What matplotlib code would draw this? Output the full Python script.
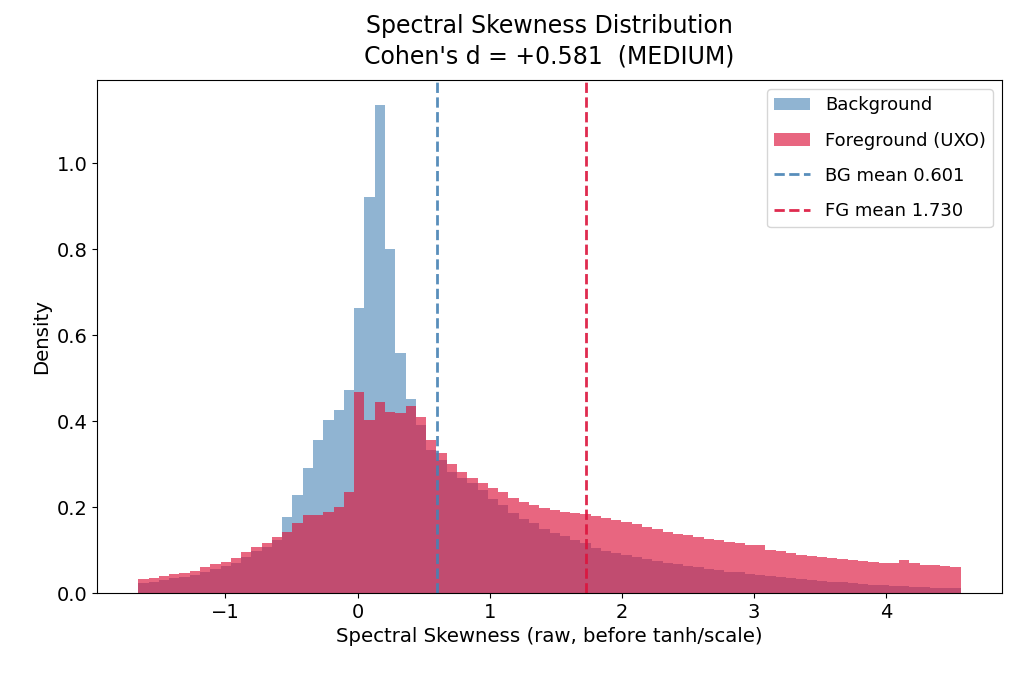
import numpy as np
import matplotlib
matplotlib.use("Agg")
import matplotlib.pyplot as plt

# histogram bins (80 bins between the clipped limits)
lo, hi = -1.66, 4.565
edges = np.linspace(lo, hi, 81)

# background density per bin
bg_density = [
    0.024, 0.027, 0.031, 0.035, 0.038, 0.043, 0.050, 0.057, 0.063, 0.071,
    0.084, 0.097, 0.108, 0.124, 0.177, 0.228, 0.290, 0.356, 0.403, 0.426,
    0.472, 0.663, 0.922, 1.136, 0.800, 0.558, 0.451, 0.390, 0.333, 0.310,
    0.282, 0.267, 0.255, 0.240, 0.220, 0.205, 0.186, 0.172, 0.163, 0.149,
    0.140, 0.132, 0.124, 0.116, 0.105, 0.099, 0.093, 0.088, 0.083, 0.079,
    0.075, 0.071, 0.067, 0.064, 0.060, 0.056, 0.053, 0.050, 0.048, 0.045,
    0.043, 0.040, 0.038, 0.036, 0.033, 0.031, 0.029, 0.027, 0.025, 0.023,
    0.022, 0.020, 0.019, 0.017, 0.016, 0.015, 0.014, 0.012, 0.012, 0.011,
]

# foreground (UXO) density per bin
fg_density = [
    0.032, 0.036, 0.040, 0.044, 0.047, 0.052, 0.060, 0.067, 0.073, 0.081,
    0.095, 0.107, 0.117, 0.130, 0.143, 0.162, 0.182, 0.182, 0.189, 0.201,
    0.236, 0.468, 0.403, 0.445, 0.422, 0.418, 0.436, 0.410, 0.356, 0.325,
    0.300, 0.282, 0.268, 0.256, 0.245, 0.235, 0.222, 0.213, 0.205, 0.199,
    0.193, 0.188, 0.187, 0.184, 0.180, 0.175, 0.171, 0.166, 0.160, 0.153,
    0.148, 0.143, 0.138, 0.134, 0.131, 0.127, 0.123, 0.120, 0.116, 0.113,
    0.111, 0.100, 0.097, 0.093, 0.089, 0.086, 0.084, 0.082, 0.080, 0.078,
    0.075, 0.073, 0.071, 0.070, 0.076, 0.069, 0.066, 0.065, 0.063, 0.061,
]

bg_mean = 0.601
fg_mean = 1.730
cohens_d = 0.581

centers = (edges[:-1] + edges[1:]) / 2

fig, ax = plt.subplots(figsize=(10.12, 6.74), dpi=100)
fig.subplots_adjust(left=0.096, right=0.990, bottom=0.120, top=0.881)

ax.hist(centers, bins=edges, weights=bg_density, histtype="stepfilled",
        color="steelblue", alpha=0.6, label="Background")
ax.hist(centers, bins=edges, weights=fg_density, histtype="stepfilled",
        color="crimson", alpha=0.65, label="Foreground (UXO)")

ax.axvline(bg_mean, color="steelblue", ls="--", lw=2, alpha=0.9,
           label=f"BG mean {bg_mean:.3f}")
ax.axvline(fg_mean, color="crimson", ls="--", lw=2, alpha=0.9,
           label=f"FG mean {fg_mean:.3f}")

ax.set_title(f"Spectral Skewness Distribution\nCohen's d = {cohens_d:+.3f}  (MEDIUM)",
             fontsize=17, linespacing=1.35, pad=12)
ax.set_xlabel("Spectral Skewness (raw, before tanh/scale)", fontsize=14.2)
ax.set_ylabel("Density", fontsize=14.2)
ax.tick_params(labelsize=14)
ax.legend(fontsize=13, loc="upper right", labelspacing=0.95)

fig.savefig("out.png", dpi=100)
